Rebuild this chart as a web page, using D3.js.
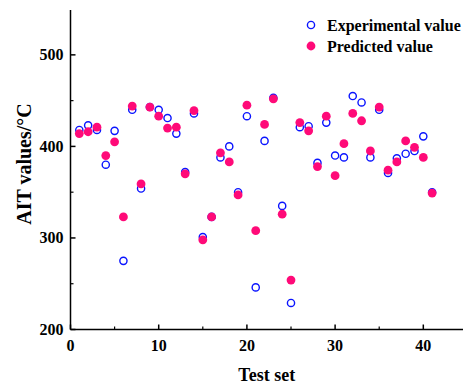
<!DOCTYPE html>
<html>
<head>
<meta charset="utf-8">
<script src="https://cdn.jsdelivr.net/npm/d3@7"></script>
<style>
  html, body { margin: 0; padding: 0; background: #fff; }
  svg { display: block; }
  text { font-family: "Liberation Serif", "Times New Roman", serif; font-weight: bold; fill: #000; }
</style>
</head>
<body>
<svg id="chart" width="466" height="386"></svg>
<script>
// Test-set sample numbers
const samples = d3.range(1, 42);

// Experimental AIT values (°C)
const experimental = [
  418, 423, 418, 380, 417, 275, 440, 354, 443, 440,
  431, 414, 372, 436, 301, 323, 388, 400, 350, 433,
  246, 406, 453, 335, 229, 421, 422, 382, 426, 390,
  388, 455, 448, 388, 440, 371, 387, 392, 395, 411,
  350
];

// Predicted AIT values (°C)
const predicted = [
  414, 416, 421, 390, 405, 323, 444, 359, 443, 433,
  420, 421, 370, 439, 298, 323, 393, 383, 347, 445,
  308, 424, 452, 326, 254, 426, 417, 378, 433, 368,
  403, 436, 428, 395, 443, 374, 383, 406, 399, 388,
  349
];

const xTicks = [0, 10, 20, 30, 40];
const yTicks = [200, 300, 400, 500];
const seriesNames = ["Experimental value", "Predicted value"];

const svg = d3.select("#chart");
const margin = { left: 70.5, right: 3, top: 10, bottom: 56.5 };
const W = 466, H = 386;
const serif = "'Liberation Serif', 'Times New Roman', serif";

const x = d3.scaleLinear().domain([0, 44.5]).range([margin.left, W - margin.right]);
const y = d3.scaleLinear().domain([200, 549]).range([H - margin.bottom, margin.top]);

const blue = "#0a14ff";
const pink = "#ff0a78";

// Axes: major ticks with labels, minor ticks in between, all pointing inward
const xAxis = svg.append("g").attr("transform", `translate(0,${y(200)})`);
xAxis.append("line")
  .attr("x1", x(0)).attr("x2", x.range()[1])
  .attr("stroke", "#000").attr("stroke-width", 1.5);
xAxis.selectAll(".maj").data(xTicks).join("line")
  .attr("x1", d => x(d)).attr("x2", d => x(d))
  .attr("y1", 0).attr("y2", -5)
  .attr("stroke", "#000").attr("stroke-width", 1.5);
xAxis.selectAll(".min").data([5, 15, 25, 35]).join("line")
  .attr("x1", d => x(d)).attr("x2", d => x(d))
  .attr("y1", 0).attr("y2", -3)
  .attr("stroke", "#000").attr("stroke-width", 1.2);
xAxis.selectAll("text").data(xTicks).join("text")
  .attr("x", d => x(d)).attr("y", 21)
  .attr("text-anchor", "middle")
  .attr("font-family", serif)
  .attr("font-size", 16)
  .text(d => d);

const yAxis = svg.append("g").attr("transform", `translate(${x(0)},0)`);
yAxis.append("line")
  .attr("y1", y(200)).attr("y2", y.range()[1])
  .attr("stroke", "#000").attr("stroke-width", 1.5);
yAxis.selectAll(".maj").data(yTicks).join("line")
  .attr("y1", d => y(d)).attr("y2", d => y(d))
  .attr("x1", 0).attr("x2", 5)
  .attr("stroke", "#000").attr("stroke-width", 1.5);
yAxis.selectAll(".min").data([250, 350, 450]).join("line")
  .attr("y1", d => y(d)).attr("y2", d => y(d))
  .attr("x1", 0).attr("x2", 3)
  .attr("stroke", "#000").attr("stroke-width", 1.2);
yAxis.selectAll("text").data(yTicks).join("text")
  .attr("x", -7).attr("y", d => y(d) + 5.5)
  .attr("text-anchor", "end")
  .attr("font-family", serif)
  .attr("font-size", 16)
  .text(d => d);

// Axis titles
svg.append("text")
  .attr("x", (x(0) + x.range()[1]) / 2).attr("y", 381)
  .attr("text-anchor", "middle")
  .attr("font-family", serif)
  .attr("font-size", 18)
  .text("Test set");
svg.append("text")
  .attr("transform", `translate(31,${164}) rotate(-90)`)
  .attr("text-anchor", "middle")
  .attr("font-family", serif)
  .attr("font-size", 20)
  .text("AIT values/°C");

// Markers
const plot = svg.append("g");
plot.selectAll(".exp").data(samples).join("circle")
  .attr("class", "exp")
  .attr("cx", (d, i) => x(d)).attr("cy", (d, i) => y(experimental[i]))
  .attr("r", 3.6)
  .attr("fill", "none").attr("stroke", blue).attr("stroke-width", 1.4);
plot.selectAll(".pred").data(samples).join("circle")
  .attr("class", "pred")
  .attr("cx", (d, i) => x(d)).attr("cy", (d, i) => y(predicted[i]))
  .attr("r", 4.4)
  .attr("fill", pink);

// Legend
const legend = svg.append("g").attr("transform", "translate(311,25)");
legend.append("circle").attr("cx", 0).attr("cy", 0).attr("r", 3.6)
  .attr("fill", "none").attr("stroke", blue).attr("stroke-width", 1.4);
legend.append("circle").attr("cx", 0).attr("cy", 21).attr("r", 4.4)
  .attr("fill", pink);
legend.selectAll("text").data(seriesNames).join("text")
  .attr("x", 16).attr("y", (d, i) => i * 21 + 5.5)
  .attr("font-family", serif)
  .attr("font-size", 16)
  .text(d => d);
</script>
</body>
</html>
